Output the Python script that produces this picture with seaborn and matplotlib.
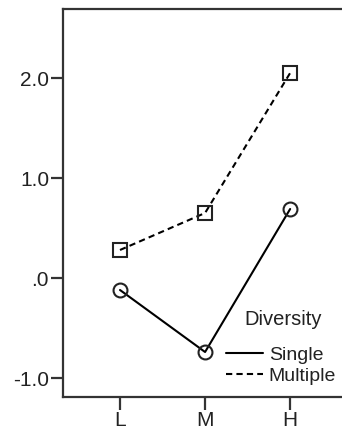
import pandas as pd
import matplotlib.pyplot as plt
import seaborn as sns
from matplotlib.lines import Line2D

# === Data ===
levels = ["L", "M", "H"]
single = [-0.12, -0.74, 0.69]
multiple = [0.28, 0.65, 2.05]
y_ticks = [-1.0, 0.0, 1.0, 2.0]
y_tick_labels = ["-1.0", ".0", "1.0", "2.0"]

df = pd.DataFrame({
    "pos": list(range(len(levels))) * 2,
    "value": single + multiple,
    "Diversity": ["Single"] * 3 + ["Multiple"] * 3,
})

sns.set_style("white")
plt.rcParams["font.family"] = ["Liberation Sans", "DejaVu Sans"]
plt.rcParams["font.size"] = 15

ink = "#222222"
fig = plt.figure(figsize=(3.42, 4.34), dpi=100)
# axes frame: left 63px, top 9px, bottom 397px; right runs past the edge
ax = fig.add_axes([63 / 342, 37 / 434, (365 - 63) / 342, (397 - 9) / 434])

sns.lineplot(
    data=df, x="pos", y="value", hue="Diversity", style="Diversity",
    palette={"Single": "black", "Multiple": "black"},
    markers={"Single": "o", "Multiple": "s"},
    dashes={"Single": "", "Multiple": (3, 2)},
    markersize=10, markerfacecolor="none", markeredgecolor=ink,
    markeredgewidth=1.5, linewidth=1.5, legend=False, ax=ax,
)
for line in ax.lines:
    line.set_markerfacecolor("none")
    line.set_markeredgecolor(ink)

ax.set_xlim(-0.67, 2.88)
ax.set_ylim(-1.19, 2.69)
ax.set_xticks(range(len(levels)))
ax.set_xticklabels(levels)
ax.set_yticks(y_ticks)
ax.set_yticklabels(y_tick_labels)
ax.set_xlabel("")
ax.set_ylabel("")

for side in ["left", "bottom", "top"]:
    ax.spines[side].set_color("#333333")
    ax.spines[side].set_linewidth(1.6)
ax.spines["right"].set_visible(False)
ax.tick_params(axis="both", bottom=True, left=True, direction="out",
               length=9, width=1.6, color="#333333", labelcolor=ink,
               labelsize=15, pad=1)

# legend: title as plain text, entries as line-only handles
ax.text(0.728, 0.186, "Diversity", transform=ax.transAxes, ha="center",
        va="baseline", fontsize=14.5, color=ink)
handles = [
    Line2D([], [], color="black", linewidth=1.5, linestyle="-"),
    Line2D([], [], color="black", linewidth=1.5, linestyle=(0, (3, 2))),
]
leg = ax.legend(handles, ["Single", "Multiple"], loc="center left",
                bbox_to_anchor=(0.54, 0.081), frameon=False, fontsize=14,
                handlelength=1.9, handletextpad=0.3, labelspacing=0.18,
                borderpad=0, borderaxespad=0)
plt.setp(leg.get_texts(), color=ink)

fig.savefig("out.png", dpi=100)
